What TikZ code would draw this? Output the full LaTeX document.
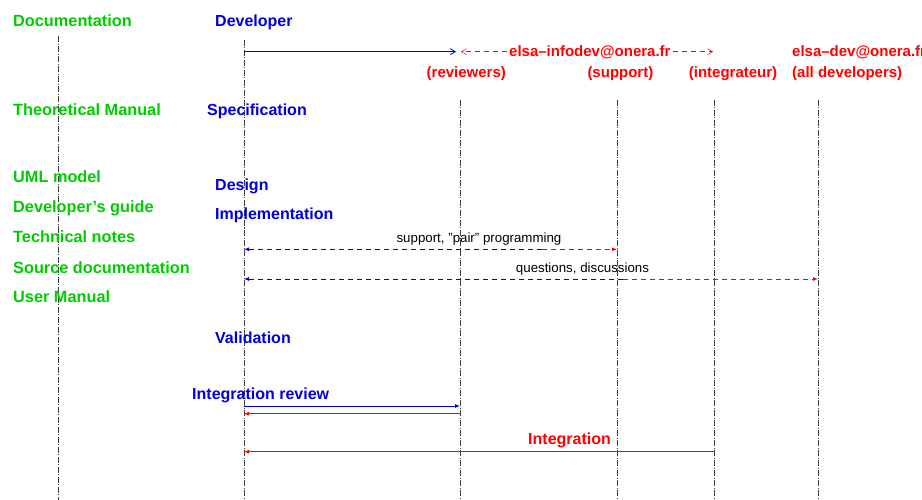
\documentclass[tikz,border=0pt]{standalone}
\usepackage{fontspec}
\setmainfont{Liberation Sans}
\usetikzlibrary{arrows.meta}
\definecolor{docgreen}{RGB}{0,204,0}
\definecolor{devblue}{RGB}{0,0,220}
\definecolor{mailred}{RGB}{255,0,0}
\definecolor{lifegray}{RGB}{60,60,60}
\begin{document}
\begin{tikzpicture}[x=1pt,y=-1pt,
  big/.style={font=\fontsize{16}{19}\selectfont\bfseries, inner sep=0pt, anchor=base west},
  doc/.style={big, text=docgreen, font=\fontsize{16.3}{19}\selectfont\bfseries},
  dev/.style={big, text=devblue},
  mail/.style={big, text=mailred, font=\fontsize{15}{18}\selectfont\bfseries},
  smalllabel/.style={font=\fontsize{13.3}{15}\selectfont, inner sep=0pt, anchor=base},
  lifeline/.style={draw=lifegray, line width=0.6pt, dash pattern=on 6pt off 1.5pt on 1pt off 1.5pt},
  filltip/.style={-{Latex[length=5pt,width=4pt]}},
  barbtip/.style={-{Straight Barb[length=5pt,width=6pt]}},
  dashmsg/.style={line width=0.8pt, dash pattern=on 5pt off 4pt},
  solidmsg/.style={line width=0.8pt}
]
\useasboundingbox (0,0) rectangle (922,500);

% headers
\node[doc] (documentation) at (13,26.5) {Documentation};
\node[dev] (developer) at (215,27) {Developer};
\node[mail] (infodev) at (509,56.5) {elsa–infodev@onera.fr};
\node[mail] (devlist) at (792,56.5) {elsa–dev@onera.fr};
\node[mail] (reviewers) at (426.5,77.5) {(reviewers)};
\node[mail] (support) at (587.3,77.5) {(support)};
\node[mail] (integrateur) at (688.7,77.5) {(integrateur)};
\node[mail] (alldev) at (792,77.5) {(all developers)};

% lifelines
\coordinate (docTop) at (58,36.5);   \coordinate (docBot) at (58,500);
\coordinate (devTop) at (244,40);    \coordinate (devBot) at (244,500);
\coordinate (revTop) at (460,100);   \coordinate (revBot) at (460,500);
\coordinate (supTop) at (617,100);   \coordinate (supBot) at (617,500);
\coordinate (intTop) at (714,100);   \coordinate (intBot) at (714,500);
\coordinate (allTop) at (818,100);   \coordinate (allBot) at (818,500);
\draw[lifeline] (docTop) -- (docBot);
\draw[lifeline] (devTop) -- (devBot);
\draw[lifeline] (revTop) -- (revBot);
\draw[lifeline] (supTop) -- (supBot);
\draw[lifeline] (intTop) -- (intBot);
\draw[lifeline] (allTop) -- (allBot);

% documentation items
\node[doc] (theo) at (13,116) {Theoretical Manual};
\node[doc] (uml) at (13,183) {UML model};
\node[doc] (devguide) at (13,213) {Developer’s guide};
\node[doc] (technotes) at (13,243) {Technical notes};
\node[doc] (srcdoc) at (13,273) {Source documentation};
\node[doc] (usermanual) at (13,302.5) {User Manual};

% developer phases
\node[dev] (spec) at (207,116) {Specification};
\node[dev] (design) at (215,191) {Design};
\node[dev] (impl) at (215,220) {Implementation};
\node[dev] (valid) at (215,343.5) {Validation};
\node[dev] (intreview) at (192,399) {Integration review};
\node[big, text=mailred] (integration) at (528,444.5) {Integration};

% top messages
\coordinate (m1a) at (244,51.7);
\coordinate (m1b) at (456,51.7);
\coordinate (m2rev) at (461,51.7);
\coordinate (m2int) at (713,51.7);
\draw[devblue, solidmsg, barbtip] (m1a) -- (m1b);
\draw[mailred, dashmsg, line width=0.5pt, barbtip] (infodev.west |- m2rev) ++(-2,0) -- (m2rev);
\draw[mailred, dashmsg, line width=0.5pt, barbtip] (infodev.east |- m2int) ++(2,0) -- (m2int);

% support, pair programming
\coordinate (p1a) at (244,249.3);
\coordinate (p1m) at (541.7,249.3);
\coordinate (p1b) at (617,249.3);
\draw[devblue, dashmsg, filltip] (p1m) -- (p1a);
\draw[mailred, dashmsg, filltip] (p1m) -- (p1b);
\node[smalllabel] (pairlabel) at (479,243) {support, "pair" programming};

% questions, discussions
\coordinate (q1a) at (244,279);
\coordinate (q1m) at (623.3,279);
\coordinate (q1b) at (818,279);
\draw[devblue, dashmsg, filltip] (q1m) -- (q1a);
\draw[mailred, dashmsg, filltip] (q1m) -- (q1b);
\node[smalllabel] (qlabel) at (582.5,272.5) {questions, discussions};

% integration review
\coordinate (r1a) at (244,406);
\coordinate (r1b) at (460,406);
\coordinate (r2a) at (460,413.7);
\coordinate (r2b) at (244,413.7);
\draw[devblue, solidmsg, filltip] (r1a) -- (r1b);
\draw[mailred, solidmsg, filltip] (r2a) -- (r2b);

% integration
\coordinate (i1a) at (714,451.7);
\coordinate (i1b) at (244,451.7);
\draw[mailred, solidmsg, filltip] (i1a) -- (i1b);
\end{tikzpicture}
\end{document}
